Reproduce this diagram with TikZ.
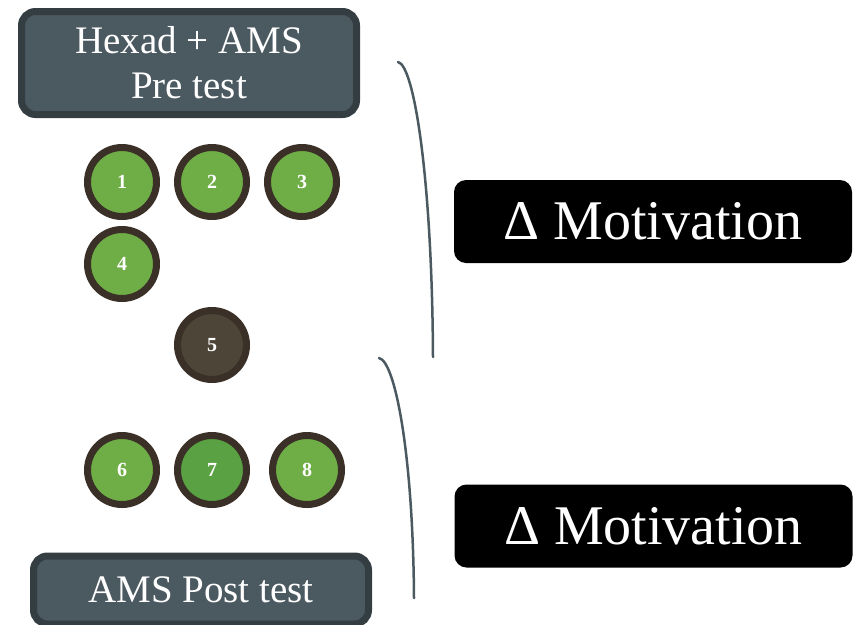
\documentclass[tikz,border=0pt]{standalone}
\usepackage{fontspec}
\setmainfont{Liberation Serif}
\usetikzlibrary{calc}
\definecolor{slatefill}{HTML}{4B5961}
\definecolor{slateline}{HTML}{343D42}
\definecolor{beadgreen}{HTML}{6FAD47}
\definecolor{beaddark}{HTML}{59A142}
\definecolor{beadring}{HTML}{3A3027}
\definecolor{beadbrown}{HTML}{4E4539}
\tikzset{test box/.style={draw=slateline,fill=slatefill,line width=7pt,rounded corners=14pt,text=white,align=center,inner sep=0pt,font=\fontsize{39}{45}\selectfont}}
\tikzset{delta box/.style={fill=black,rounded corners=12pt,text=white,inner sep=0pt,minimum width=398pt,minimum height=83pt,font=\fontsize{56}{60}\selectfont}}
\tikzset{bead/.style={circle,draw=beadring,fill=beadgreen,line width=7pt,minimum size=69pt,inner sep=0pt,text=white,font=\bfseries\fontsize{20}{20}\selectfont}}
\tikzset{brace line/.style={draw=slatefill,line width=2.5pt,line cap=round}}

\begin{document}
\begin{tikzpicture}[x=1pt,y=-1pt]
    \useasboundingbox (0,0) rectangle (858,624);

    % tests
    \node[test box,minimum width=335pt,minimum height=103pt](Pre) at (189,63) {Hexad + AMS\\Pre test};
    \node[test box,minimum width=335pt,minimum height=68pt](Post) at (201,590) {AMS Post test};

    % sessions
    \node[bead](S1) at (122,182) {1};
    \node[bead](S2) at (212,182) {2};
    \node[bead](S3) at (302,182) {3};
    \node[bead](S4) at (122,264) {4};
    \node[bead,fill=beadbrown](S5) at (212,345) {5};
    \node[bead](S6) at (122,470) {6};
    \node[bead,fill=beaddark](S7) at (212,470) {7};
    \node[bead](S8) at (307,470) {8};

    % outcomes
    \node[delta box](D1) at (653,221.5) {Δ Motivation};
    \node[delta box](D2) at (653.5,526) {Δ Motivation};

    % braces
    \coordinate (B1a) at (398,62);
    \coordinate (B1b) at (433,357);
    \coordinate (B2a) at (379,358);
    \coordinate (B2b) at (414,598);
    \draw[brace line] (B1a) .. controls ($(B1a)+(16,3)$) and ($(B1b)+(-1,-180)$) .. (B1b);
    \draw[brace line] (B2a) .. controls ($(B2a)+(16,3)$) and ($(B2b)+(-1,-145)$) .. (B2b);

\end{tikzpicture}
\end{document}
